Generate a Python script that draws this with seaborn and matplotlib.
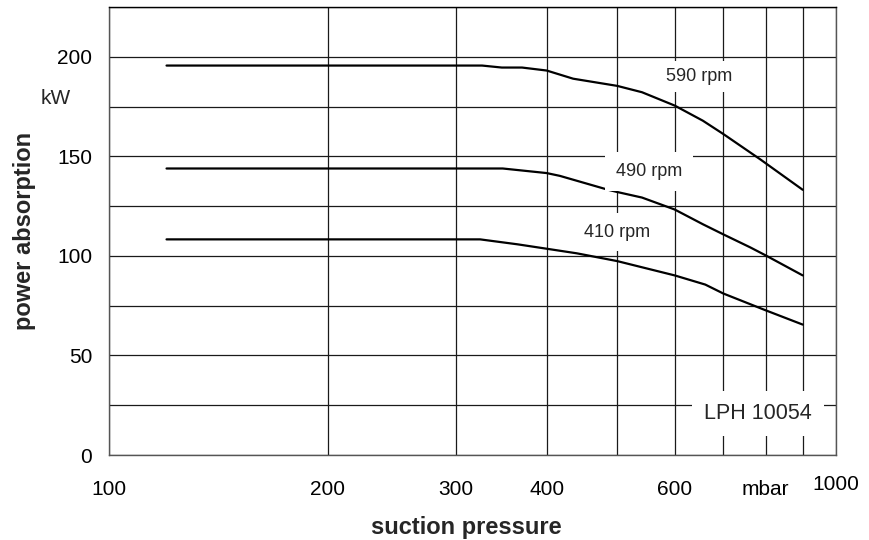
import numpy as np
import pandas as pd
import matplotlib
matplotlib.use("Agg")
import matplotlib.pyplot as plt
import matplotlib.transforms as mtransforms
import seaborn as sns

# curve data (suction pressure in mbar, power in kW)
p_590 = [120, 326, 347, 370, 400, 435, 500, 541, 600, 656, 700, 786, 900]
kw_590 = [195.6, 195.6, 194.6, 194.6, 193.1, 189.0, 185.4, 182.2, 175.5, 167.9, 161.2, 148.6, 133.2]

p_490 = [120, 348, 400, 417, 486, 500, 541, 600, 656, 700, 762, 800, 900]
kw_490 = [143.9, 143.9, 141.6, 140.2, 133.2, 132.1, 129.3, 123.3, 115.9, 110.8, 104.3, 100.3, 90.2]

p_410 = [120, 324, 365, 400, 440, 500, 600, 661, 700, 800, 900]
kw_410 = [108.3, 108.3, 105.8, 103.6, 101.3, 97.4, 90.2, 85.6, 81.1, 72.7, 65.5]

speeds = ["590 rpm", "490 rpm", "410 rpm"]
label_x = [648, 553, 500]
label_y = [190.0, 142.3, 112.0]
label_pad = [0.4, 0.6, 0.6]

x_ticks = [100, 200, 300, 400, 600, 800, 1000]
x_ticklabels = ["100", "200", "300", "400", "600", "mbar", "1000"]
x_minor = [500, 700, 900]
y_ticks = [0, 50, 100, 150, 200]
y_minor = [25, 75, 125, 175, 225]

df = pd.concat([
    pd.DataFrame({"pressure": p, "power": kw, "speed": s})
    for p, kw, s in zip([p_590, p_490, p_410], [kw_590, kw_490, kw_410], speeds)
])

sns.set_theme(style="white")
plt.rcParams["font.family"] = ["Liberation Sans", "DejaVu Sans"]

fig, ax = plt.subplots(figsize=(8.69, 5.40), dpi=100)
fig.subplots_adjust(left=0.1254, right=0.962, bottom=0.1574, top=0.987)

sns.lineplot(data=df, x="pressure", y="power", hue="speed", units="speed",
             estimator=None, sort=False, palette=["black"] * 3,
             legend=False, linewidth=1.6, ax=ax, zorder=3)

ax.set_xscale("log")
ax.set_xlim(100, 1000)
ax.set_ylim(0, 225)

ax.set_xticks(x_ticks)
ax.set_xticklabels(x_ticklabels)
ax.set_xticks(x_minor, minor=True)
ax.set_xticklabels([], minor=True)
ax.set_yticks(y_ticks)
ax.set_yticks(y_minor, minor=True)

ax.grid(which="both", color="#1a1a1a", linewidth=0.9)
ax.set_axisbelow(True)

ax.tick_params(axis="x", which="both", length=0, pad=18, labelsize=15, colors="black")
ax.tick_params(axis="y", which="major", direction="inout", length=10, width=0.8,
               pad=7, labelsize=15, colors="black")
ax.tick_params(axis="y", which="minor", length=0)

# "1000" sits a little higher than the other tick labels
for lbl in ax.get_xticklabels():
    if lbl.get_text() == "1000":
        lbl.set_transform(lbl.get_transform() +
                          mtransforms.ScaledTranslation(0, 3.6 / 72, fig.dpi_scale_trans))

for side, sp in ax.spines.items():
    sp.set_visible(True)
    sp.set_color("black" if side == "top" else "#555555")
    sp.set_linewidth(1.0)

ax.set_xlabel("suction pressure", fontsize=17, fontweight="bold")
ax.set_ylabel("power absorption", fontsize=17, fontweight="bold")
ax.xaxis.set_label_coords(0.491, -0.136)
ax.yaxis.set_label_coords(-0.10, 0.50)

ax.text(-0.073, 179, "kW", transform=ax.get_yaxis_transform(),
        ha="center", va="center", fontsize=15)

for s, lx, ly, pd_ in zip(speeds, label_x, label_y, label_pad):
    ax.text(lx, ly, s, ha="center", va="center", fontsize=13, zorder=5,
            bbox=dict(boxstyle=f"square,pad={pd_}", facecolor="white", edgecolor="none"))

ax.text(781, 21, "LPH 10054", ha="center", va="center", fontsize=15.5,
        bbox=dict(boxstyle="square,pad=0.55", facecolor="white", edgecolor="none"),
        zorder=5)

fig.savefig("out.png", dpi=100)
